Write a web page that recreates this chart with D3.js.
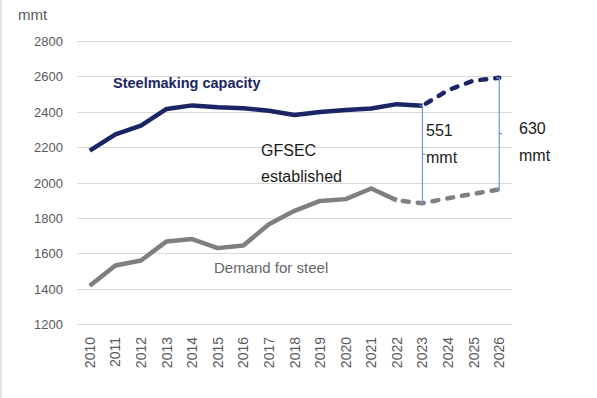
<!DOCTYPE html>
<html><head><meta charset="utf-8">
<script src="https://cdn.jsdelivr.net/npm/d3@7"></script>
<style>body{margin:0;background:#fff}svg{display:block}</style>
</head><body>
<script>
const years = ["2010","2011","2012","2013","2014","2015","2016","2017","2018","2019","2020","2021","2022","2023","2024","2025","2026"];
const capacityActual = [2180,2272,2322,2416,2436,2425,2420,2406,2382,2398,2410,2418,2443,2434];
const capacityForecast = [2434,2522,2576,2592]; // 2023-2026
const demandActual = [1416,1531,1559,1667,1680,1629,1644,1764,1840,1896,1906,1966,1899]; // 2010-2022
const demandForecast = [1899,1883,1911,1936,1961]; // 2022-2026
const yTicks = [1200,1400,1600,1800,2000,2200,2400,2600,2800];

const W = 597, H = 398;
const svg = d3.select("body").append("svg").attr("width", W).attr("height", H);
const font = "'Liberation Sans', Arial, sans-serif";

svg.append("line").attr("x1",1).attr("x2",1).attr("y1",0).attr("y2",H).attr("stroke","#d9d9d9").attr("stroke-width",1.5);

const x = d3.scalePoint().domain(years).range([77,512]).padding(0.5);
const y = d3.scaleLinear().domain([1200,2800]).range([324,41]);

// grid
svg.append("g").selectAll("line").data(yTicks).join("line")
  .attr("x1",77).attr("x2",512).attr("y1",d=>Math.round(y(d))+0.5).attr("y2",d=>Math.round(y(d))+0.5)
  .attr("stroke","#d9d9d9").attr("stroke-width",1);

// y labels
svg.append("g").selectAll("text").data(yTicks).join("text")
  .attr("x",63).attr("y",d=>y(d)+5).attr("text-anchor","end")
  .attr("font-family",font).attr("font-size",13).attr("fill","#595959").text(d=>d);

svg.append("text").attr("x",18).attr("y",20).attr("font-family",font).attr("font-size",15).attr("fill","#595959").text("mmt");

// x labels
svg.append("g").selectAll("text").data(years).join("text")
  .attr("transform",d=>`translate(${x(d)+5},337) rotate(-90)`)
  .attr("text-anchor","end").attr("font-family",font).attr("font-size",14).attr("fill","#595959").text(d=>d);

const line = d3.line().x(d=>x(d[0])).y(d=>y(d[1]));
const capA = capacityActual.map((v,i)=>[years[i],v]);
const capF = capacityForecast.map((v,i)=>[years[13+i],v]);
const demA = demandActual.map((v,i)=>[years[i],v]);
const demF = demandForecast.map((v,i)=>[years[12+i],v]);

const navy = "#1b2566", grey = "#7f7f7f";
svg.append("path").attr("d",line(demA)).attr("fill","none").attr("stroke",grey).attr("stroke-width",4.5).attr("stroke-linejoin","round");
svg.append("path").attr("d",line(demF)).attr("fill","none").attr("stroke",grey).attr("stroke-width",4.5).attr("stroke-linecap","round").attr("stroke-dasharray","6,9").attr("stroke-dashoffset",-6);
svg.append("path").attr("d",line(capA)).attr("fill","none").attr("stroke",navy).attr("stroke-width",4.5).attr("stroke-linejoin","round");
svg.append("path").attr("d",line(capF)).attr("fill","none").attr("stroke",navy).attr("stroke-width",4.5).attr("stroke-linecap","round").attr("stroke-dasharray","6,9").attr("stroke-dashoffset",-4);

// braces
function brace(yr, top, bot, midDir){
  const bx = x(yr), t = y(top), b = y(bot), m = (t+b)/2;
  const p = `M${bx-3},${t} L${bx},${t} L${bx},${b} L${bx-3},${b} M${bx},${m} L${bx+3*midDir},${m}`;
  svg.append("path").attr("d",p).attr("fill","none").attr("stroke","#6f95d2").attr("stroke-width",1.2);
}
brace("2023", capacityForecast[0], demandForecast[1], 1);
brace("2026", capacityForecast[3], demandForecast[4], 1);

// annotations
svg.append("text").attr("x",113).attr("y",88).attr("font-family",font).attr("font-size",14.5).attr("font-weight","bold").attr("fill",navy).text("Steelmaking capacity");
svg.append("text").attr("x",261).attr("y",156).attr("font-family",font).attr("font-size",16).attr("fill","#1a1a1a").text("GFSEC");
svg.append("text").attr("x",261).attr("y",182).attr("font-family",font).attr("font-size",16).attr("fill","#1a1a1a").text("established");
svg.append("text").attr("x",214).attr("y",273).attr("font-family",font).attr("font-size",15).attr("fill","#666666").text("Demand for steel");
svg.append("text").attr("x",426).attr("y",136).attr("font-family",font).attr("font-size",16).attr("fill","#1a1a1a").text("551");
svg.append("text").attr("x",426).attr("y",163).attr("font-family",font).attr("font-size",16).attr("fill","#1a1a1a").text("mmt");
svg.append("text").attr("x",519).attr("y",134).attr("font-family",font).attr("font-size",16).attr("fill","#1a1a1a").text("630");
svg.append("text").attr("x",519).attr("y",161).attr("font-family",font).attr("font-size",16).attr("fill","#1a1a1a").text("mmt");
</script>
</body></html>
